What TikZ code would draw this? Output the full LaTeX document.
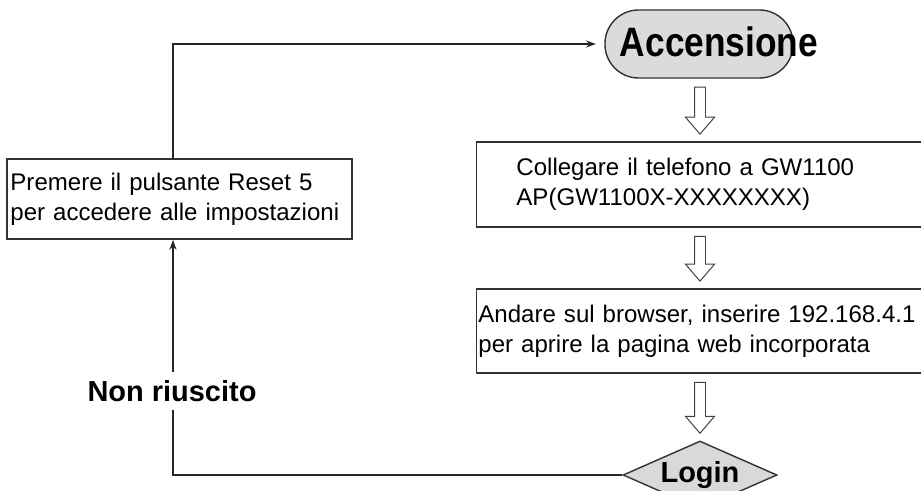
\documentclass[tikz,border=0pt]{standalone}
\usepackage{graphicx}
\usepackage{fontspec}
\setmainfont{Liberation Sans}
\usetikzlibrary{shapes.geometric, arrows.meta, calc}

% wide hollow arrow between two nodes
\newcommand{\hollowarrow}[2]{%
  \draw[hollow] let \p1=($(#1.south)+(0,-6pt)$), \p2=($(#2.north)+(0,5pt)$) in
    (\x2-3.9pt,\y1) -- (\x2-3.9pt,\y2+12pt) -- (\x2-10.3pt,\y2+12pt) -- (\x2,\y2)
    -- (\x2+10.3pt,\y2+12pt) -- (\x2+3.9pt,\y2+12pt) -- (\x2+3.9pt,\y1) -- cycle;}

\begin{document}
\begin{tikzpicture}[x=0.025cm, y=-0.025cm,
    box/.style={draw=black!80, line width=1.2pt, fill=white, align=left, font=\fontsize{17.1}{21.3}\selectfont},
    link/.style={draw=black!85, line width=1.1pt, -{Stealth[length=7pt,width=5pt]}},
    hollow/.style={draw=black!75, line width=0.7pt, fill=white},
    bigbold/.style={font=\bfseries\fontsize{20.6}{24}\selectfont}]
    \useasboundingbox (0,0) rectangle (921,491);
    \clip (0,0) rectangle (921,491);

    \node[draw=black!80, line width=1pt, fill=black!14, rounded corners=0.84cm, minimum width=4.7cm, minimum height=1.7cm] (start) at (699,44) {};
    \node[font=\bfseries\fontsize{29.2}{32}\selectfont, inner sep=0] (starttext) at (719,42) {\scalebox{0.86}[1]{Accensione}};

    \node[box, text width=9.175cm, inner xsep=1cm, minimum height=2.125cm] (phone) at (700,184.5) {Collegare il telefono a GW1100\\AP(GW1100X-XXXXXXXX)};
    \node[box, text width=11.075cm, inner xsep=0.05cm, minimum height=2.1cm] (browser) at (700,331) {Andare sul browser, inserire 192.168.4.1\\per aprire la pagina web incorporata};
    \node[diamond, draw=black!80, line width=1pt, fill=black!15, inner sep=0, minimum width=3.85cm, minimum height=1.7cm, shape aspect=2.26, bigbold] (login) at (700,475) {Login};

    \node[box, text width=8.45cm, inner xsep=0.0875cm, minimum height=2cm] (reset) at (179.5,199) {Premere il pulsante Reset 5\\per accedere alle impostazioni};

    \hollowarrow{start}{phone}
    \hollowarrow{phone}{browser}
    \hollowarrow{browser}{login}

    \coordinate (upleft) at (173,44);
    \coordinate (downleft) at (173,475);
    \draw[link] (reset.north -| upleft) -- (upleft) -- ([xshift=-6pt]start.west);
    \draw[link] (login.west) -- (downleft) -- (reset.south -| downleft);

    \node[bigbold, fill=white, inner xsep=2pt, inner ysep=6pt] (fail) at (172,391) {Non riuscito};
\end{tikzpicture}
\end{document}
